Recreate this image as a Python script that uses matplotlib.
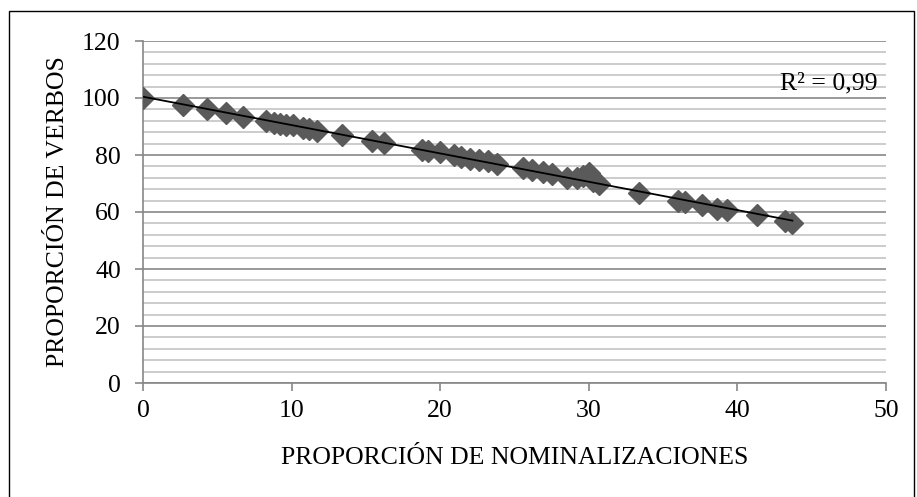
import numpy as np
import matplotlib.pyplot as plt
from matplotlib.patches import Rectangle
from matplotlib.ticker import MultipleLocator

# Data
nominalizaciones = [0, 2.7, 4.3, 5.6, 6.7, 8.3, 8.8, 9.2, 9.6, 10.1, 10.8, 11.2, 11.7,
                    13.4, 15.4, 16.2, 18.8, 19.2, 20.0, 20.9, 21.4, 22.0, 22.6, 23.2,
                    23.8, 25.6, 26.2, 26.9, 27.5, 28.5, 29.2, 29.6, 30.0, 30.3, 30.7,
                    33.4, 36.0, 36.5, 37.6, 38.6, 39.3, 41.3, 43.2, 43.7]
verbos = [100, 97.7, 96.0, 94.8, 93.5, 92.0, 91.3, 91.0, 90.6, 90.5, 89.5, 89.0, 88.4,
          87.0, 85.0, 84.3, 81.8, 81.4, 80.9, 80.0, 79.3, 78.7, 78.3, 77.8,
          76.8, 75.4, 74.9, 74.0, 73.4, 72.0, 71.8, 72.5, 73.8, 71.0, 70.0,
          66.8, 64.0, 63.5, 62.5, 61.2, 60.6, 58.9, 56.8, 56.3]
r2_label = "R² = 0,99"
x_label = "PROPORCIÓN DE NOMINALIZACIONES"
y_label = "PROPORCIÓN DE VERBOS"

plt.rcParams['font.family'] = ['Liberation Serif', 'DejaVu Serif']
fs = 18.5

fig = plt.figure(figsize=(9.17, 4.97), dpi=100)
ax = fig.add_axes([143 / 917, 1 - 383 / 497, 743 / 917, 342 / 497])

# outer frame
fig.patches.append(Rectangle((9 / 917, -0.05), 905 / 917, 1.05 - 11 / 497,
                             transform=fig.transFigure, fill=False,
                             edgecolor='black', linewidth=1.0))

x = np.array(nominalizaciones)
y = np.array(verbos)

ax.plot(x, y, linestyle='none', marker='D', markersize=11,
        color='#5a5a5a', zorder=3)

# linear trend line
coef = np.polyfit(x, y, 1)
xs = np.array([x.min(), x.max()])
ax.plot(xs, np.polyval(coef, xs), color='black', linewidth=1.3, zorder=4)

ax.set_xlim(0, 50)
ax.set_ylim(0, 120)
ax.xaxis.set_major_locator(MultipleLocator(10))
ax.yaxis.set_major_locator(MultipleLocator(20))
ax.yaxis.set_minor_locator(MultipleLocator(4))

ax.grid(which='major', axis='y', color='#878787', linewidth=1.2, zorder=1)
ax.grid(which='minor', axis='y', color='#c3c3c3', linewidth=1.2, zorder=1)
ax.set_axisbelow(True)

for side in ['top', 'right']:
    ax.spines[side].set_visible(False)
for side in ['left', 'bottom']:
    ax.spines[side].set_color('#878787')
    ax.spines[side].set_linewidth(1.2)

ax.tick_params(which='major', direction='out', length=6, width=1.2,
               color='#878787', labelsize=fs)
ax.tick_params(axis='x', pad=6)
ax.tick_params(axis='y', pad=10)
ax.tick_params(which='minor', length=0)

ax.set_xlabel(x_label, fontsize=fs)
ax.set_ylabel(y_label, fontsize=fs)
ax.xaxis.set_label_coords(0.5, -0.219)
ax.yaxis.set_label_coords(-0.114, 0.5)
ax.xaxis.label.set_va('center')
ax.yaxis.label.set_va('center')

ax.text(0.988, 0.877, r2_label, transform=ax.transAxes, fontsize=fs,
        ha='right', va='center')

fig.savefig('out.png', dpi=100)
